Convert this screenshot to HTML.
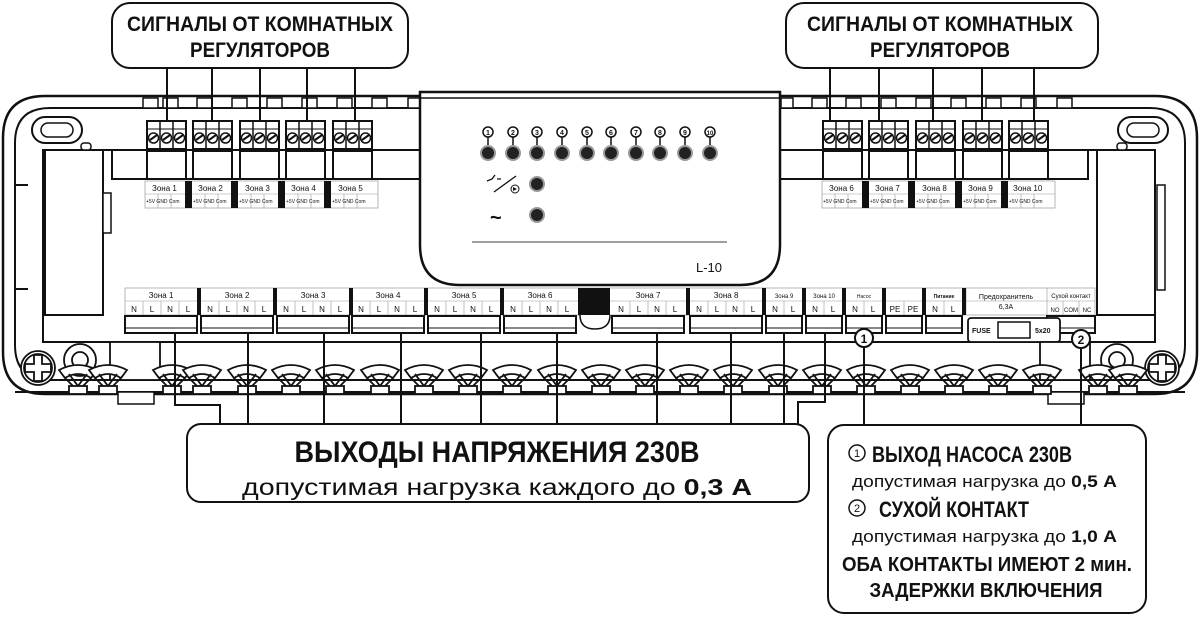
<!DOCTYPE html>
<html><head><meta charset="utf-8">
<style>
html,body{margin:0;padding:0;background:#fff;}
svg{display:block;}
text{font-family:"Liberation Sans",sans-serif;fill:#111;}
.b{font-family:"Liberation Sans Narrow","Liberation Sans",sans-serif;font-weight:bold;}
.s{font-size:8px;fill:#333;}
.t{font-size:5px;fill:#333;}
.nl{font-size:8px;fill:#222;}
</style></head><body>
<svg width="1200" height="618" viewBox="0 0 1200 618" xmlns="http://www.w3.org/2000/svg">
<defs>
 <g id="scr">
  <rect x="0" y="0" width="39" height="28" fill="#fff" stroke="#111" stroke-width="2"/>
  <line x1="13" y1="0" x2="13" y2="28" stroke="#111" stroke-width="1.5"/>
  <line x1="26" y1="0" x2="26" y2="28" stroke="#111" stroke-width="1.5"/>
  <line x1="0" y1="8" x2="39" y2="8" stroke="#111" stroke-width="1"/>
  <circle cx="6.5" cy="17" r="5" fill="#fff" stroke="#111" stroke-width="1.5"/>
  <circle cx="19.5" cy="17" r="5" fill="#fff" stroke="#111" stroke-width="1.5"/>
  <circle cx="32.5" cy="17" r="5" fill="#fff" stroke="#111" stroke-width="1.5"/>
  <path d="M3,19 L10,14 M16,19 L23,14 M29,19 L36,14" stroke="#111" stroke-width="2"/>
  <rect x="0" y="30" width="39" height="28" fill="#fff" stroke="#111" stroke-width="2"/>
 </g>
 <g id="clip">
  <path d="M-19,-6 Q0,-16 19,-6 L13,2 Q0,-6 -13,2 Z" fill="#fff" stroke="#111" stroke-width="1.8"/>
  <path d="M-9,-2 L0,10 L9,-2" fill="none" stroke="#111" stroke-width="1.8"/>
  <path d="M-13,2 L-3,12 L3,12 L13,2" fill="none" stroke="#111" stroke-width="1.8"/>
  <rect x="-9" y="10" width="18" height="8" fill="#fff" stroke="#111" stroke-width="1.8"/>
 </g>
 <g id="led">
  <circle r="7" fill="#222" stroke="#999" stroke-width="2"/>
 </g>
</defs>

<path d="M45,96 H1155 Q1197,96 1197,138 V352 Q1197,394 1155,394 H45 Q3,394 3,352 V138 Q3,96 45,96 Z" fill="#fff" stroke="#111" stroke-width="2.5"/>
<path d="M50,108 H1150 Q1185,108 1185,143 V345 Q1185,380 1150,380 H50 Q15,380 15,345 V143 Q15,108 50,108 Z" fill="none" stroke="#111" stroke-width="2"/>
<g fill="#fff" stroke="#111" stroke-width="1.5">
 <rect x="143" y="98" width="15" height="10"/><rect x="163" y="98" width="15" height="10"/><rect x="197" y="98" width="15" height="10"/><rect x="232" y="98" width="15" height="10"/><rect x="267" y="98" width="15" height="10"/><rect x="302" y="98" width="15" height="10"/><rect x="337" y="98" width="15" height="10"/><rect x="372" y="98" width="15" height="10"/><rect x="408" y="98" width="12" height="10"/>
 <rect x="781" y="98" width="12" height="10"/><rect x="812" y="98" width="15" height="10"/><rect x="846" y="98" width="15" height="10"/><rect x="881" y="98" width="15" height="10"/><rect x="916" y="98" width="15" height="10"/><rect x="951" y="98" width="15" height="10"/><rect x="986" y="98" width="15" height="10"/><rect x="1021" y="98" width="15" height="10"/><rect x="1057" y="98" width="15" height="10"/>
</g>
<path d="M43,150 H1155 V342 H43 Z" fill="#fff" stroke="#111" stroke-width="2"/>
<line x1="15" y1="185" x2="28" y2="185" stroke="#111" stroke-width="2"/>
<line x1="15" y1="289" x2="28" y2="289" stroke="#111" stroke-width="2"/>
<rect x="45" y="150" width="58" height="165" fill="#fff" stroke="#111" stroke-width="2"/>
<rect x="103" y="193" width="8" height="40" fill="#fff" stroke="#111" stroke-width="1.5"/>
<rect x="81" y="143" width="10" height="7" rx="3" fill="#fff" stroke="#111" stroke-width="1.5"/>
<rect x="1097" y="150" width="58" height="165" fill="#fff" stroke="#111" stroke-width="2"/>
<rect x="1157" y="185" width="8" height="105" fill="#fff" stroke="#111" stroke-width="1.5"/>
<rect x="1117" y="143" width="10" height="7" rx="3" fill="#fff" stroke="#111" stroke-width="1.5"/>
<rect x="32" y="117" width="50" height="26" rx="13" fill="#fff" stroke="#111" stroke-width="2"/>
<rect x="41" y="123" width="32" height="14" rx="7" fill="#fff" stroke="#111" stroke-width="1.5"/>
<rect x="1118" y="117" width="50" height="26" rx="13" fill="#fff" stroke="#111" stroke-width="2"/>
<rect x="1127" y="123" width="32" height="14" rx="7" fill="#fff" stroke="#111" stroke-width="1.5"/>
<g fill="#fff" stroke="#111" stroke-width="1.8">
 <circle cx="38" cy="368" r="17"/><circle cx="38" cy="368" r="14"/>
 <path d="M34,355 h8 v9 h9 v8 h-9 v9 h-8 v-9 h-9 v-8 h9z"/>
 <circle cx="1162" cy="368" r="17"/><circle cx="1162" cy="368" r="14"/>
 <path d="M1158,355 h8 v9 h9 v8 h-9 v9 h-8 v-9 h-9 v-8 h9z"/>
 <circle cx="80" cy="360" r="16"/><circle cx="80" cy="360" r="8"/>
 <circle cx="1117" cy="360" r="16"/><circle cx="1117" cy="360" r="8"/>
</g>

<rect x="112" y="150" width="308" height="29" fill="#fff" stroke="#111" stroke-width="2"/>
<rect x="780" y="150" width="308" height="29" fill="#fff" stroke="#111" stroke-width="2"/>
<use href="#scr" x="147" y="121"/><use href="#scr" x="193" y="121"/><use href="#scr" x="240" y="121"/><use href="#scr" x="286" y="121"/><use href="#scr" x="333" y="121"/>
<use href="#scr" x="823" y="121"/><use href="#scr" x="869" y="121"/><use href="#scr" x="916" y="121"/><use href="#scr" x="963" y="121"/><use href="#scr" x="1009" y="121"/>

<g stroke="#999" stroke-width="0.7" fill="#fff">
 <rect x="145" y="181" width="233" height="27"/>
 <rect x="822" y="181" width="233" height="27"/>
</g>
<g stroke="#999" stroke-width="0.6">
 <line x1="145" y1="194" x2="378" y2="194"/><line x1="822" y1="194" x2="1055" y2="194"/>
 <path d="M158,194v14M171,194v14M205,194v14M218,194v14M251,194v14M264,194v14M298,194v14M311,194v14M344,194v14M357,194v14"/>
 <path d="M835,194v14M848,194v14M882,194v14M895,194v14M928,194v14M941,194v14M975,194v14M988,194v14M1021,194v14M1034,194v14"/>
</g>
<g fill="#111">
 <rect x="185" y="181" width="7" height="27"/><rect x="231" y="181" width="7" height="27"/><rect x="278" y="181" width="7" height="27"/><rect x="324" y="181" width="7" height="27"/>
 <rect x="862" y="181" width="7" height="27"/><rect x="908" y="181" width="7" height="27"/><rect x="955" y="181" width="7" height="27"/><rect x="1001" y="181" width="7" height="27"/>
</g>
<g class="s">
 <text x="152" y="191">Зона 1</text><text x="198" y="191">Зона 2</text><text x="245" y="191">Зона 3</text><text x="291" y="191">Зона 4</text><text x="338" y="191">Зона 5</text>
 <text x="829" y="191">Зона 6</text><text x="875" y="191">Зона 7</text><text x="922" y="191">Зона 8</text><text x="968" y="191">Зона 9</text><text x="1013" y="191">Зона 10</text>
</g>
<g class="t">
 <text x="146" y="203">+5V GND Com</text><text x="193" y="203">+5V GND Com</text><text x="239" y="203">+5V GND Com</text><text x="286" y="203">+5V GND Com</text><text x="332" y="203">+5V GND Com</text>
 <text x="823" y="203">+5V GND Com</text><text x="870" y="203">+5V GND Com</text><text x="916" y="203">+5V GND Com</text><text x="963" y="203">+5V GND Com</text><text x="1009" y="203">+5V GND Com</text>
</g>

<path d="M420,92 H780 V245 Q780,285 740,285 H460 Q420,285 420,245 Z" fill="#fff" stroke="#111" stroke-width="2.5"/>
<line x1="420" y1="98" x2="780" y2="98" stroke="#111" stroke-width="1.5"/>
<g font-size="7" text-anchor="middle" font-weight="bold">
 <g fill="#fff" stroke="#111" stroke-width="1.5">
  <circle cx="488" cy="132" r="5"/><circle cx="513" cy="132" r="5"/><circle cx="537" cy="132" r="5"/><circle cx="562" cy="132" r="5"/><circle cx="587" cy="132" r="5"/><circle cx="611" cy="132" r="5"/><circle cx="636" cy="132" r="5"/><circle cx="660" cy="132" r="5"/><circle cx="685" cy="132" r="5"/><circle cx="710" cy="132" r="5"/>
 </g>
 <path d="M488,137v9M513,137v9M537,137v9M562,137v9M587,137v9M611,137v9M636,137v9M660,137v9M685,137v9M710,137v9" stroke="#111" stroke-width="1.5"/>
 <text x="488" y="135">1</text><text x="513" y="135">2</text><text x="537" y="135">3</text><text x="562" y="135">4</text><text x="587" y="135">5</text><text x="611" y="135">6</text><text x="636" y="135">7</text><text x="660" y="135">8</text><text x="685" y="135">9</text><text x="710" y="135" font-size="6">10</text>
</g>
<use href="#led" x="488" y="153"/><use href="#led" x="513" y="153"/><use href="#led" x="537" y="153"/><use href="#led" x="562" y="153"/><use href="#led" x="587" y="153"/><use href="#led" x="611" y="153"/><use href="#led" x="636" y="153"/><use href="#led" x="660" y="153"/><use href="#led" x="685" y="153"/><use href="#led" x="710" y="153"/>
<use href="#led" x="537" y="184"/><use href="#led" x="537" y="215"/>
<path d="M487,181 l5,-2 l3,-4 M497,179 h4 M494,192 L516,176" stroke="#111" stroke-width="1.3" fill="none"/>
<circle cx="515" cy="189" r="4" fill="#fff" stroke="#111" stroke-width="1"/><path d="M513,187 l4,2 l-4,2z" fill="#111"/>
<text x="490" y="224" font-size="20" font-weight="bold">~</text>
<line x1="472" y1="242" x2="727" y2="242" stroke="#666" stroke-width="1.3"/>
<text x="696" y="272" font-size="13">L-10</text>

<g fill="#fff" stroke="#999" stroke-width="0.7">
 <rect x="125" y="288" width="970" height="27"/>
</g>
<g stroke="#999" stroke-width="0.6">
 <line x1="125" y1="301" x2="1047" y2="301"/>
 <path d="M143,301v14M161,301v14M179,301v14M219,301v14M237,301v14M255,301v14M295,301v14M313,301v14M331,301v14M370,301v14M388,301v14M406,301v14M446,301v14M464,301v14M482,301v14M522,301v14M540,301v14M558,301v14M630,301v14M648,301v14M666,301v14M708,301v14M726,301v14M744,301v14M784,301v14M824,301v14M864,301v14M904,301v14M944,301v14M1063,301v14M1079,301v14"/>
 <line x1="966" y1="288" x2="966" y2="315"/><line x1="1047" y1="288" x2="1047" y2="315"/><line x1="1047" y1="301" x2="1095" y2="301"/>
</g>
<g fill="#111">
 <rect x="197" y="288" width="4" height="27"/><rect x="273" y="288" width="4" height="27"/><rect x="349" y="288" width="4" height="27"/><rect x="424" y="288" width="4" height="27"/><rect x="500" y="288" width="4" height="27"/>
 <rect x="578" y="288" width="32" height="27"/>
 <rect x="686" y="288" width="4" height="27"/><rect x="762" y="288" width="4" height="27"/><rect x="802" y="288" width="4" height="27"/><rect x="842" y="288" width="4" height="27"/><rect x="882" y="288" width="4" height="27"/><rect x="922" y="288" width="4" height="27"/><rect x="962" y="288" width="4" height="27"/>
</g>
<g class="s" text-anchor="middle">
 <text x="161" y="298">Зона  1</text><text x="237" y="298">Зона  2</text><text x="313" y="298">Зона  3</text><text x="388" y="298">Зона  4</text><text x="464" y="298">Зона  5</text><text x="540" y="298">Зона  6</text><text x="648" y="298">Зона  7</text><text x="726" y="298">Зона  8</text>
 <text x="784" y="298" font-size="6">Зона 9</text><text x="824" y="298" font-size="6">Зона 10</text><text x="864" y="298" font-size="5">Насос</text><text x="944" y="298" font-size="5" font-weight="bold">Питание</text>
 <text x="1006" y="299" font-size="7">Предохранитель</text><text x="1006" y="309" font-size="7">6,3А</text>
 <text x="1071" y="298" font-size="6">Сухой контакт</text>
</g>
<g class="nl" text-anchor="middle">
 <text x="134" y="312">N</text><text x="152" y="312">L</text><text x="170" y="312">N</text><text x="188" y="312">L</text>
 <text x="210" y="312">N</text><text x="228" y="312">L</text><text x="246" y="312">N</text><text x="264" y="312">L</text>
 <text x="286" y="312">N</text><text x="304" y="312">L</text><text x="322" y="312">N</text><text x="340" y="312">L</text>
 <text x="361" y="312">N</text><text x="379" y="312">L</text><text x="397" y="312">N</text><text x="415" y="312">L</text>
 <text x="437" y="312">N</text><text x="455" y="312">L</text><text x="473" y="312">N</text><text x="491" y="312">L</text>
 <text x="513" y="312">N</text><text x="531" y="312">L</text><text x="549" y="312">N</text><text x="567" y="312">L</text>
 <text x="621" y="312">N</text><text x="639" y="312">L</text><text x="657" y="312">N</text><text x="675" y="312">L</text>
 <text x="699" y="312">N</text><text x="717" y="312">L</text><text x="735" y="312">N</text><text x="753" y="312">L</text>
 <text x="775" y="312">N</text><text x="793" y="312">L</text><text x="815" y="312">N</text><text x="833" y="312">L</text>
 <text x="855" y="312">N</text><text x="873" y="312">L</text><text x="895" y="312">PE</text><text x="913" y="312">PE</text>
 <text x="935" y="312">N</text><text x="953" y="312">L</text>
 <text x="1055" y="312" font-size="6">NO</text><text x="1071" y="312" font-size="6">COM</text><text x="1087" y="312" font-size="6">NC</text>
</g>
<g fill="#fff" stroke="#111" stroke-width="2">
 <rect x="125" y="316" width="72" height="17"/><rect x="201" y="316" width="72" height="17"/><rect x="277" y="316" width="72" height="17"/><rect x="352" y="316" width="72" height="17"/><rect x="428" y="316" width="72" height="17"/><rect x="504" y="316" width="72" height="17"/>
 <rect x="612" y="316" width="72" height="17"/><rect x="690" y="316" width="72" height="17"/><rect x="766" y="316" width="36" height="17"/><rect x="806" y="316" width="36" height="17"/><rect x="846" y="316" width="36" height="17"/><rect x="886" y="316" width="36" height="17"/><rect x="926" y="316" width="36" height="17"/><rect x="1047" y="316" width="48" height="17"/>
</g>
<g stroke="#111" stroke-width="1" fill="none">
 <path d="M125,328H197M201,328H273M277,328H349M352,328H424M428,328H500M504,328H576M612,328H684M690,328H762M766,328H802M806,328H842M846,328H882M886,328H922M926,328H962M1047,328H1095"/>
</g>
<path d="M580,315 q0,14 15,14 q15,0 15,-14" fill="#fff" stroke="#111" stroke-width="1.5"/>
<rect x="968" y="318" width="92" height="24" rx="3" fill="#fff" stroke="#111" stroke-width="1.8"/>
<rect x="998" y="322" width="32" height="16" fill="#fff" stroke="#111" stroke-width="1.5"/>
<text x="972" y="333" font-size="7" font-weight="bold">FUSE</text>
<text x="1035" y="333" font-size="7" font-weight="bold">5x20</text>

<line x1="15" y1="392" x2="1185" y2="392" stroke="#111" stroke-width="2"/>
<rect x="110" y="342" width="50" height="38" fill="#fff" stroke="#111" stroke-width="1.8"/>
<rect x="118" y="392" width="36" height="12" fill="#fff" stroke="#111" stroke-width="1.5"/>
<rect x="1040" y="342" width="50" height="38" fill="#fff" stroke="#111" stroke-width="1.8"/>
<rect x="1048" y="392" width="36" height="12" fill="#fff" stroke="#111" stroke-width="1.5"/>
<g>
 <use href="#clip" x="78" y="376"/><use href="#clip" x="108" y="376"/><use href="#clip" x="172" y="376"/>
 <use href="#clip" x="202" y="376"/><use href="#clip" x="247" y="376"/><use href="#clip" x="291" y="376"/><use href="#clip" x="335" y="376"/><use href="#clip" x="380" y="376"/><use href="#clip" x="424" y="376"/><use href="#clip" x="468" y="376"/><use href="#clip" x="512" y="376"/><use href="#clip" x="557" y="376"/><use href="#clip" x="601" y="376"/><use href="#clip" x="645" y="376"/><use href="#clip" x="689" y="376"/><use href="#clip" x="733" y="376"/><use href="#clip" x="778" y="376"/><use href="#clip" x="822" y="376"/><use href="#clip" x="866" y="376"/><use href="#clip" x="910" y="376"/><use href="#clip" x="954" y="376"/><use href="#clip" x="998" y="376"/><use href="#clip" x="1042" y="376"/><use href="#clip" x="1098" y="376"/><use href="#clip" x="1128" y="376"/>
</g>

<g stroke="#111" stroke-width="2" fill="none">
 <path d="M175,333V405H220V424"/>
 <path d="M248,333V424"/><path d="M324,333V424"/><path d="M401,333V424"/><path d="M481,333V424"/><path d="M557,333V424"/><path d="M657,333V424"/><path d="M731,333V424"/>
 <path d="M784,333V424"/>
 <path d="M825,333V402H798V424"/>
 <path d="M864,346V425"/>
 <path d="M1081,347V425"/>
 <path d="M167,68V121M212,68V121M260,68V121M307,68V121M355,68V121"/>
 <path d="M830,68V121M879,68V121M933,68V121M982,68V121M1034,68V121"/>
</g>
<circle cx="864" cy="338" r="9" fill="#fff" stroke="#111" stroke-width="2"/>
<text x="864" y="343" font-size="12" font-weight="bold" text-anchor="middle">1</text>
<circle cx="1081" cy="339" r="9" fill="#fff" stroke="#111" stroke-width="2"/>
<text x="1081" y="344" font-size="12" font-weight="bold" text-anchor="middle">2</text>

<rect x="112" y="3" width="296" height="65" rx="18" fill="#fff" stroke="#111" stroke-width="2"/>
<text class="b" x="260" y="31" font-size="21" text-anchor="middle" textLength="266" lengthAdjust="spacingAndGlyphs">СИГНАЛЫ ОТ КОМНАТНЫХ</text>
<text class="b" x="260" y="57" font-size="21" text-anchor="middle" textLength="140" lengthAdjust="spacingAndGlyphs">РЕГУЛЯТОРОВ</text>
<rect x="786" y="3" width="312" height="65" rx="18" fill="#fff" stroke="#111" stroke-width="2"/>
<text class="b" x="940" y="31" font-size="21" text-anchor="middle" textLength="266" lengthAdjust="spacingAndGlyphs">СИГНАЛЫ ОТ КОМНАТНЫХ</text>
<text class="b" x="940" y="57" font-size="21" text-anchor="middle" textLength="140" lengthAdjust="spacingAndGlyphs">РЕГУЛЯТОРОВ</text>

<rect x="187" y="424" width="622" height="78" rx="14" fill="#fff" stroke="#111" stroke-width="2"/>
<text class="b" x="497" y="462" font-size="30" text-anchor="middle" textLength="405" lengthAdjust="spacingAndGlyphs">ВЫХОДЫ НАПРЯЖЕНИЯ 230В</text>
<text x="497" y="495" font-size="23" text-anchor="middle" textLength="510" lengthAdjust="spacingAndGlyphs">допустимая нагрузка каждого до <tspan font-weight="bold">0,3 А</tspan></text>

<rect x="828" y="425" width="318" height="188" rx="16" fill="#fff" stroke="#111" stroke-width="2"/>
<circle cx="857" cy="453" r="8" fill="#fff" stroke="#111" stroke-width="1.5"/><text x="857" y="457" font-size="11" text-anchor="middle">1</text>
<text class="b" x="872" y="462" font-size="22" textLength="200" lengthAdjust="spacingAndGlyphs">ВЫХОД НАСОСА 230В</text>
<text x="852" y="487" font-size="17" textLength="265" lengthAdjust="spacingAndGlyphs">допустимая нагрузка до <tspan font-weight="bold">0,5 А</tspan></text>
<circle cx="857" cy="508" r="8" fill="#fff" stroke="#111" stroke-width="1.5"/><text x="857" y="512" font-size="11" text-anchor="middle">2</text>
<text class="b" x="879" y="517" font-size="22" textLength="150" lengthAdjust="spacingAndGlyphs">СУХОЙ КОНТАКТ</text>
<text x="852" y="542" font-size="17" textLength="265" lengthAdjust="spacingAndGlyphs">допустимая нагрузка до <tspan font-weight="bold">1,0 А</tspan></text>
<text class="b" x="987" y="571" font-size="20" text-anchor="middle" textLength="290" lengthAdjust="spacingAndGlyphs">ОБА КОНТАКТЫ ИМЕЮТ 2 мин.</text>
<text class="b" x="986" y="597" font-size="20" text-anchor="middle" textLength="233" lengthAdjust="spacingAndGlyphs">ЗАДЕРЖКИ ВКЛЮЧЕНИЯ</text>
</svg>
</body></html>
